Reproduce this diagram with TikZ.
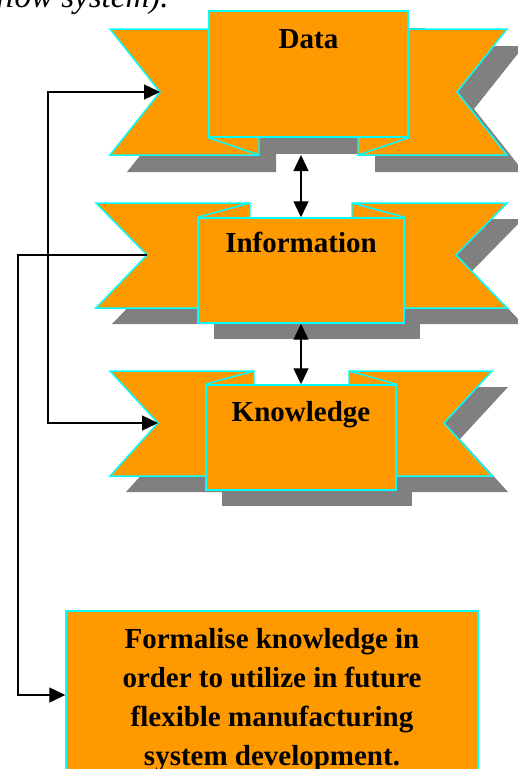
\documentclass[tikz,border=0pt]{standalone}
\usepackage{fontspec}
\setmainfont{Liberation Serif}
\usepackage{tikz}
\usetikzlibrary{arrows.meta, positioning, calc}
\definecolor{ribbonorange}{HTML}{FF9900}
\definecolor{ribbonedge}{HTML}{00FFFF}
\definecolor{shadowgray}{HTML}{808080}

\begin{document}
\begin{tikzpicture}[
    x=0.02cm, y=-0.02cm,
    shadowfill/.style={fill=shadowgray, draw=none},
    ribbon/.style={fill=ribbonorange, draw=ribbonedge, line width=0.85pt},
    fold/.style={draw=ribbonedge, line width=0.85pt},
    box/.style={rectangle, ribbon, inner sep=0pt},
    lbl/.style={font=\fontsize{16.5}{20}\selectfont\bfseries, anchor=base},
    arrow/.style={->, >={Triangle[length=0.32cm, width=0.3cm]}, line width=0.75pt},
    both/.style={arrow, <->}
]
    \useasboundingbox (0,0) rectangle (518,769);
    \clip (0,0) rectangle (518,769);

    % cut-off line of the text above
    \node[font=\fontsize{18.8}{22}\selectfont\itshape, anchor=base east, inner sep=0pt] (lead) at (169,7) {flow system).};

    % Shadows
    \begin{scope}[shift={(17,17)}]
        \fill[shadowfill] (110,29) -- (259,29) -- (259,155) -- (110,155) -- (160,92) -- cycle;
        \fill[shadowfill] (507,29) -- (358,29) -- (358,155) -- (507,155) -- (457,92) -- cycle;
        \fill[shadowfill] (209,11) rectangle (408,137);
    \end{scope}
    \begin{scope}[shift={(16,16)}]
        \fill[shadowfill] (96,203) -- (250,203) -- (250,308) -- (96,308) -- (147,255) -- cycle;
        \fill[shadowfill] (507,203) -- (352,203) -- (352,308) -- (507,308) -- (456,255) -- cycle;
        \fill[shadowfill] (198,218) rectangle (404,323);
        \fill[shadowfill] (110,371) -- (254,371) -- (254,476) -- (110,476) -- (158,423) -- cycle;
        \fill[shadowfill] (492,371) -- (349,371) -- (349,476) -- (492,476) -- (444,423) -- cycle;
        \fill[shadowfill] (206,385) rectangle (396,490);
    \end{scope}

    % Data ribbon
    \draw[ribbon] (110,29) -- (259,29) -- (259,155) -- (110,155) -- (160,92) -- cycle;
    \draw[ribbon] (507,29) -- (358,29) -- (358,155) -- (507,155) -- (457,92) -- cycle;
    \node[box, minimum width=3.98cm, minimum height=2.52cm] (data) at (308.5,74) {};
    \draw[fold] (data.south west) -- (259,155);
    \draw[fold] (data.south east) -- (358,155);
    \node[lbl] at ($(data.north)+(0,38)$) {Data};
    \coordinate (dataL) at (160,92);
    \coordinate (dataB) at (301,155);

    % Information ribbon
    \draw[ribbon] (96,203) -- (250,203) -- (250,308) -- (96,308) -- (147,255) -- cycle;
    \draw[ribbon] (507,203) -- (352,203) -- (352,308) -- (507,308) -- (456,255) -- cycle;
    \node[box, minimum width=4.12cm, minimum height=2.10cm] (info) at (301,270.5) {};
    \draw[fold] (250,203) -- (info.north west);
    \draw[fold] (352,203) -- (info.north east);
    \node[lbl] at ($(info.north)+(0,35)$) {Information};
    \coordinate (infoL) at (147,255);

    % Knowledge ribbon
    \draw[ribbon] (110,371) -- (254,371) -- (254,476) -- (110,476) -- (158,423) -- cycle;
    \draw[ribbon] (492,371) -- (349,371) -- (349,476) -- (492,476) -- (444,423) -- cycle;
    \node[box, minimum width=3.80cm, minimum height=2.10cm] (know) at (301,437.5) {};
    \draw[fold] (254,371) -- (know.north west);
    \draw[fold] (349,371) -- (know.north east);
    \node[lbl] at ($(know.north)+(0,37)$) {Knowledge};
    \coordinate (knowL) at (158,423);

    % Goal box
    \node[box, minimum width=8.24cm, minimum height=3.36cm] (goal) at (272,695) {};
    \node[align=center, font=\fontsize{16.5}{22.2}\selectfont\bfseries] (goalText)
        at ($(goal.center)+(0,5)$)
        {Formalise knowledge in\\order to utilize in future\\flexible manufacturing\\system development.};

    % Connectors
    \draw[both] (dataB) -- (info.north);
    \draw[both] (info.south) -- (know.north);
    \draw[both] (dataL) -- ++(-112,0) |- (knowL);
    \draw[arrow] (infoL) -- ++(-129,0) |- (goal.west);
\end{tikzpicture}
\end{document}
